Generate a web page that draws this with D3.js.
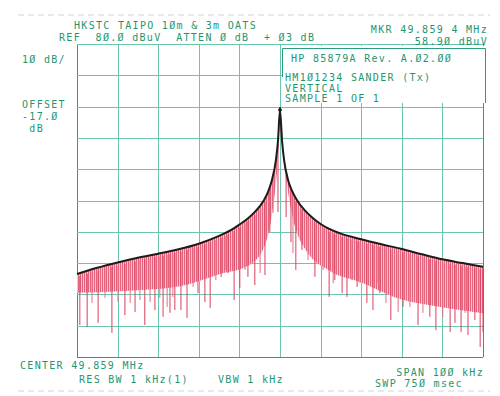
<!DOCTYPE html>
<html>
<head>
<meta charset="utf-8">
<script src="https://cdn.jsdelivr.net/npm/d3@7"></script>
<style>
  body { margin: 0; background: #fff; }
  svg { display: block; }
  .lbl { font-family: "DejaVu Sans Mono", monospace; font-size: 10px; fill: #1f9670; letter-spacing: 1.3px; }
</style>
</head>
<body>
<script>
// trace: offset from centre in kHz, level in dBuV
var envKHz = [-50, -45, -40, -35, -30, -25, -20, -15, -12, -10, -8, -6, -4, -3, -2, -1, -0.5, 0,
              0.5, 1, 2, 3, 4, 6, 8, 10, 12, 15, 20, 25, 30, 35, 40, 45, 50];
var envDb  = [6.5, 8.5, 10.2, 11.7, 13.0, 14.4, 16.2, 18.7, 20.6, 22.3, 24.2, 26.6, 30.0, 32.6, 36.5, 43.0, 49.0, 58.9,
              49.0, 43.0, 36.5, 33.0, 30.5, 27.0, 24.5, 22.5, 21.0, 19.4, 17.6, 16.0, 14.5, 12.8, 11.2, 10.0, 8.8];

// lower edge of the dense red band
var bandKHz = [-50, -39.4, -25, -14.8, -7.4, -3.7, -2.0, -0.7, 0, 1.2, 3.0, 6.2, 12.3, 19.7, 29.6, 39.4, 50];
var bandDb  = [0.5, 1.0, 2.5, 6.5, 9.5, 15.8, 25.4, 39.7, 52.5, 39.7, 25.4, 14.5, 7.5, 4.0, -1.5, -4.0, -6.0];

// deep dips below the band
var dipKHz = [-49.3, -47.5, -44.8, -41.4, -38.2, -35.7, -33.3, -30.8, -28.8, -27.1, -25.9, -24.4, -22.9, -20.2, -18.5, -17.2, -14.5, -12.8, -11.3, -9.9, -7.9, -6.2, -3.7, -2.5, -0.5,
              1.5, 2.7, 3.9, 5.4, 8.6, 12.1, 13.5, 15.3, 16.5, 19.0, 21.4, 22.9, 24.6, 27.3, 30.3, 34.0, 36.9, 38.4, 41.9, 43.1, 44.6, 46.3, 48.0, 49.3, 50];
var dipDb  = [-9.8, -10.4, -9.1, -12.3, -6.6, -5.6, -9.8, -5.0, -7.2, -5.9, -5.0, -5.0, -7.5, 0.4, -2.4, -4.3, 5.6, 6.8, -1.8, 2.0, 5.6, 3.0, 6.2, 19.9, 26.3,
              24.7, 16.7, 7.8, 14.2, 5.6, -0.8, 4.6, 0.4, -0.8, 2.4, -2.7, -5.0, 0.4, -8.2, -4.0, -9.8, -7.2, -11.4, -12.0, -9.1, -12.0, -13.0, -8.2, -16.8, -12.0];

// shorter dips just past the band
var midKHz = [-46.3, -43.1, -39.9, -36.9, -34.5, -32.0, -29.6, -27.8, -26.4, -21.4, -15.8, -13.5, -8.6, -4.9, -1.7,
              3.2, 6.9, 10.6, 13.1, 17.7, 19.7, 23.9, 26.1, 29.1, 32.0, 35.2, 40.1, 45.6];
var midDb  = [-2.7, -1.1, -2.4, -2.7, -1.8, -2.4, -1.1, -4.0, -0.8, 2.4, 4.6, 7.8, 7.8, 6.8, 26.0,
              13.2, 11.0, 7.8, 3.6, 4.6, 3.6, 3.6, -2.7, -5.6, -4.0, -5.9, -7.2, -5.9];

var xTicks = [-50, -40, -30, -20, -10, 0, 10, 20, 30, 40, 50];
var yTicks = [-20, -10, 0, 10, 20, 30, 40, 50, 60, 70, 80];

var headerLeft = ['HKSTC TAIPO 1Øm & 3m OATS', 'REF  8Ø.Ø dBuV  ATTEN Ø dB  + Ø3 dB'];
var headerRight = ['MKR 49.859 4 MHz', '58.9Ø dBuV'];
var sideLabels = ['1Ø dB/', 'OFFSET', '-17.Ø', ' dB'];
var noteLines = ['HP 85879A Rev. A.Ø2.ØØ', 'HM1Ø1234 SANDER (Tx)', 'VERTICAL', 'SAMPLE 1 OF 1'];
var footLeft = ['CENTER 49.859 MHz', 'RES BW 1 kHz(1)', 'VBW 1 kHz'];
var footRight = ['SPAN 1ØØ kHz', 'SWP 75Ø msec'];

var W = 500, H = 396;
var x = d3.scaleLinear().domain([-50, 50]).range([77, 483]);
var y = d3.scaleLinear().domain([-20, 80]).range([357, 44]);

var svg = d3.select('body').append('svg').attr('width', W).attr('height', H);

var defs = svg.append('defs');
var pat = defs.append('pattern')
    .attr('id', 'hatch')
    .attr('patternUnits', 'userSpaceOnUse')
    .attr('width', 2).attr('height', 4);
pat.append('rect').attr('width', 2).attr('height', 4).attr('fill', '#f7c2cd');
pat.append('rect').attr('width', 1).attr('height', 4).attr('fill', '#e4647e');

// faint page edges
svg.append('line').attr('x1', 18).attr('x2', 490).attr('y1', 15).attr('y2', 15)
    .attr('stroke', '#d4d4d4').attr('stroke-dasharray', '6,4');
svg.append('line').attr('x1', 18).attr('x2', 490).attr('y1', 391).attr('y2', 391)
    .attr('stroke', '#d4d4d4').attr('stroke-dasharray', '6,4');

// grid
var grid = svg.append('g').attr('stroke', '#6cc6ae').attr('stroke-width', 1);
grid.selectAll('line.v')
    .data(xTicks)
    .enter()
    .append('line')
    .attr('class', 'v')
    .attr('x1', function(d) { return Math.round(x(d)) + 0.5; })
    .attr('x2', function(d) { return Math.round(x(d)) + 0.5; })
    .attr('y1', y(80))
    .attr('y2', y(-20))
    ;
grid.selectAll('line.h')
    .data(yTicks)
    .enter()
    .append('line')
    .attr('class', 'h')
    .attr('x1', x(-50))
    .attr('x2', x(50))
    .attr('y1', function(d) { return Math.round(y(d)) + 0.5; })
    .attr('y2', function(d) { return Math.round(y(d)) + 0.5; })
    ;
grid.selectAll('line.v').filter(function(d) { return d === -50 || d === 50; })
    .attr('stroke', '#2e9c7c');
grid.selectAll('line.h').filter(function(d) { return d === -20; })
    .attr('stroke', '#2e9c7c');

// annotation box masks the top-right grid
svg.append('rect').attr('x', 282).attr('y', 46).attr('width', 204).attr('height', 57).attr('fill', '#fff');
svg.append('path')
    .attr('d', 'M282.5,77 V48.5 H485.5 V103')
    .attr('fill', 'none').attr('stroke', '#2e9c7c');

// trace
var envPts = envKHz.map(function(k, i) { return [k, envDb[i]]; });
var bandPts = bandKHz.map(function(k, i) { return [k, bandDb[i]]; });
var envAt = d3.scaleLinear().domain(envKHz).range(envDb);

var bandArea = d3.area()
    .x(function(d) { return x(d[0]); })
    .y0(function(d) { return y(d[1]); })
    .y1(function(d) { return y(envAt(d[0])); })
    .curve(d3.curveMonotoneX);
svg.append('path').datum(bandPts)
    .attr('d', bandArea)
    .attr('fill', 'url(#hatch)');

function dips(ks, dbs, color) {
  svg.append('g').selectAll('line')
      .data(ks)
      .enter()
      .append('line')
      .attr('x1', function(d) { return x(d); })
      .attr('x2', function(d) { return x(d); })
      .attr('y1', function(d) { return y(envAt(d)) + 3; })
      .attr('y2', function(d, i) { return y(dbs[i]); })
      .attr('stroke', color)
      .attr('stroke-width', 1)
      ;
}
dips(midKHz, midDb, '#e56c84');
dips(dipKHz, dipDb, '#d8405e');

var envLine = d3.line()
    .x(function(d) { return x(d[0]); })
    .y(function(d) { return y(d[1]); })
    .curve(d3.curveMonotoneX);
svg.append('path').datum(envPts)
    .attr('d', envLine)
    .attr('fill', 'none')
    .attr('stroke', '#1c1c1c')
    .attr('stroke-width', 2);

// marker at peak
svg.append('path')
    .attr('d', d3.symbol(d3.symbolDiamond, 14)())
    .attr('transform', 'translate(' + x(0) + ',' + y(58.9) + ')')
    .attr('fill', '#1c1c1c');

// text
function label(str, px, py, anchor) {
  svg.append('text').attr('class', 'lbl')
      .attr('x', px).attr('y', py)
      .attr('text-anchor', anchor || 'start')
      .attr('xml:space', 'preserve')
      .text(str);
}
label(headerLeft[0], 74, 29);
label(headerLeft[1], 59, 41);
label(headerRight[0], 488, 33, 'end');
label(headerRight[1], 488, 45, 'end');
label(sideLabels[0], 22, 63);
label(sideLabels[1], 22, 107.5);
label(sideLabels[2], 22, 119.5);
label(sideLabels[3], 22, 131.5);
label(noteLines[0], 291, 62);
label(noteLines[1], 285, 81);
label(noteLines[2], 285, 91.5);
label(noteLines[3], 285, 102);
label(footLeft[0], 20, 369);
label(footLeft[1], 79, 383);
label(footLeft[2], 218, 383);
label(footRight[0], 484, 376, 'end');
label(footRight[1], 375, 387);
</script>
</body>
</html>
